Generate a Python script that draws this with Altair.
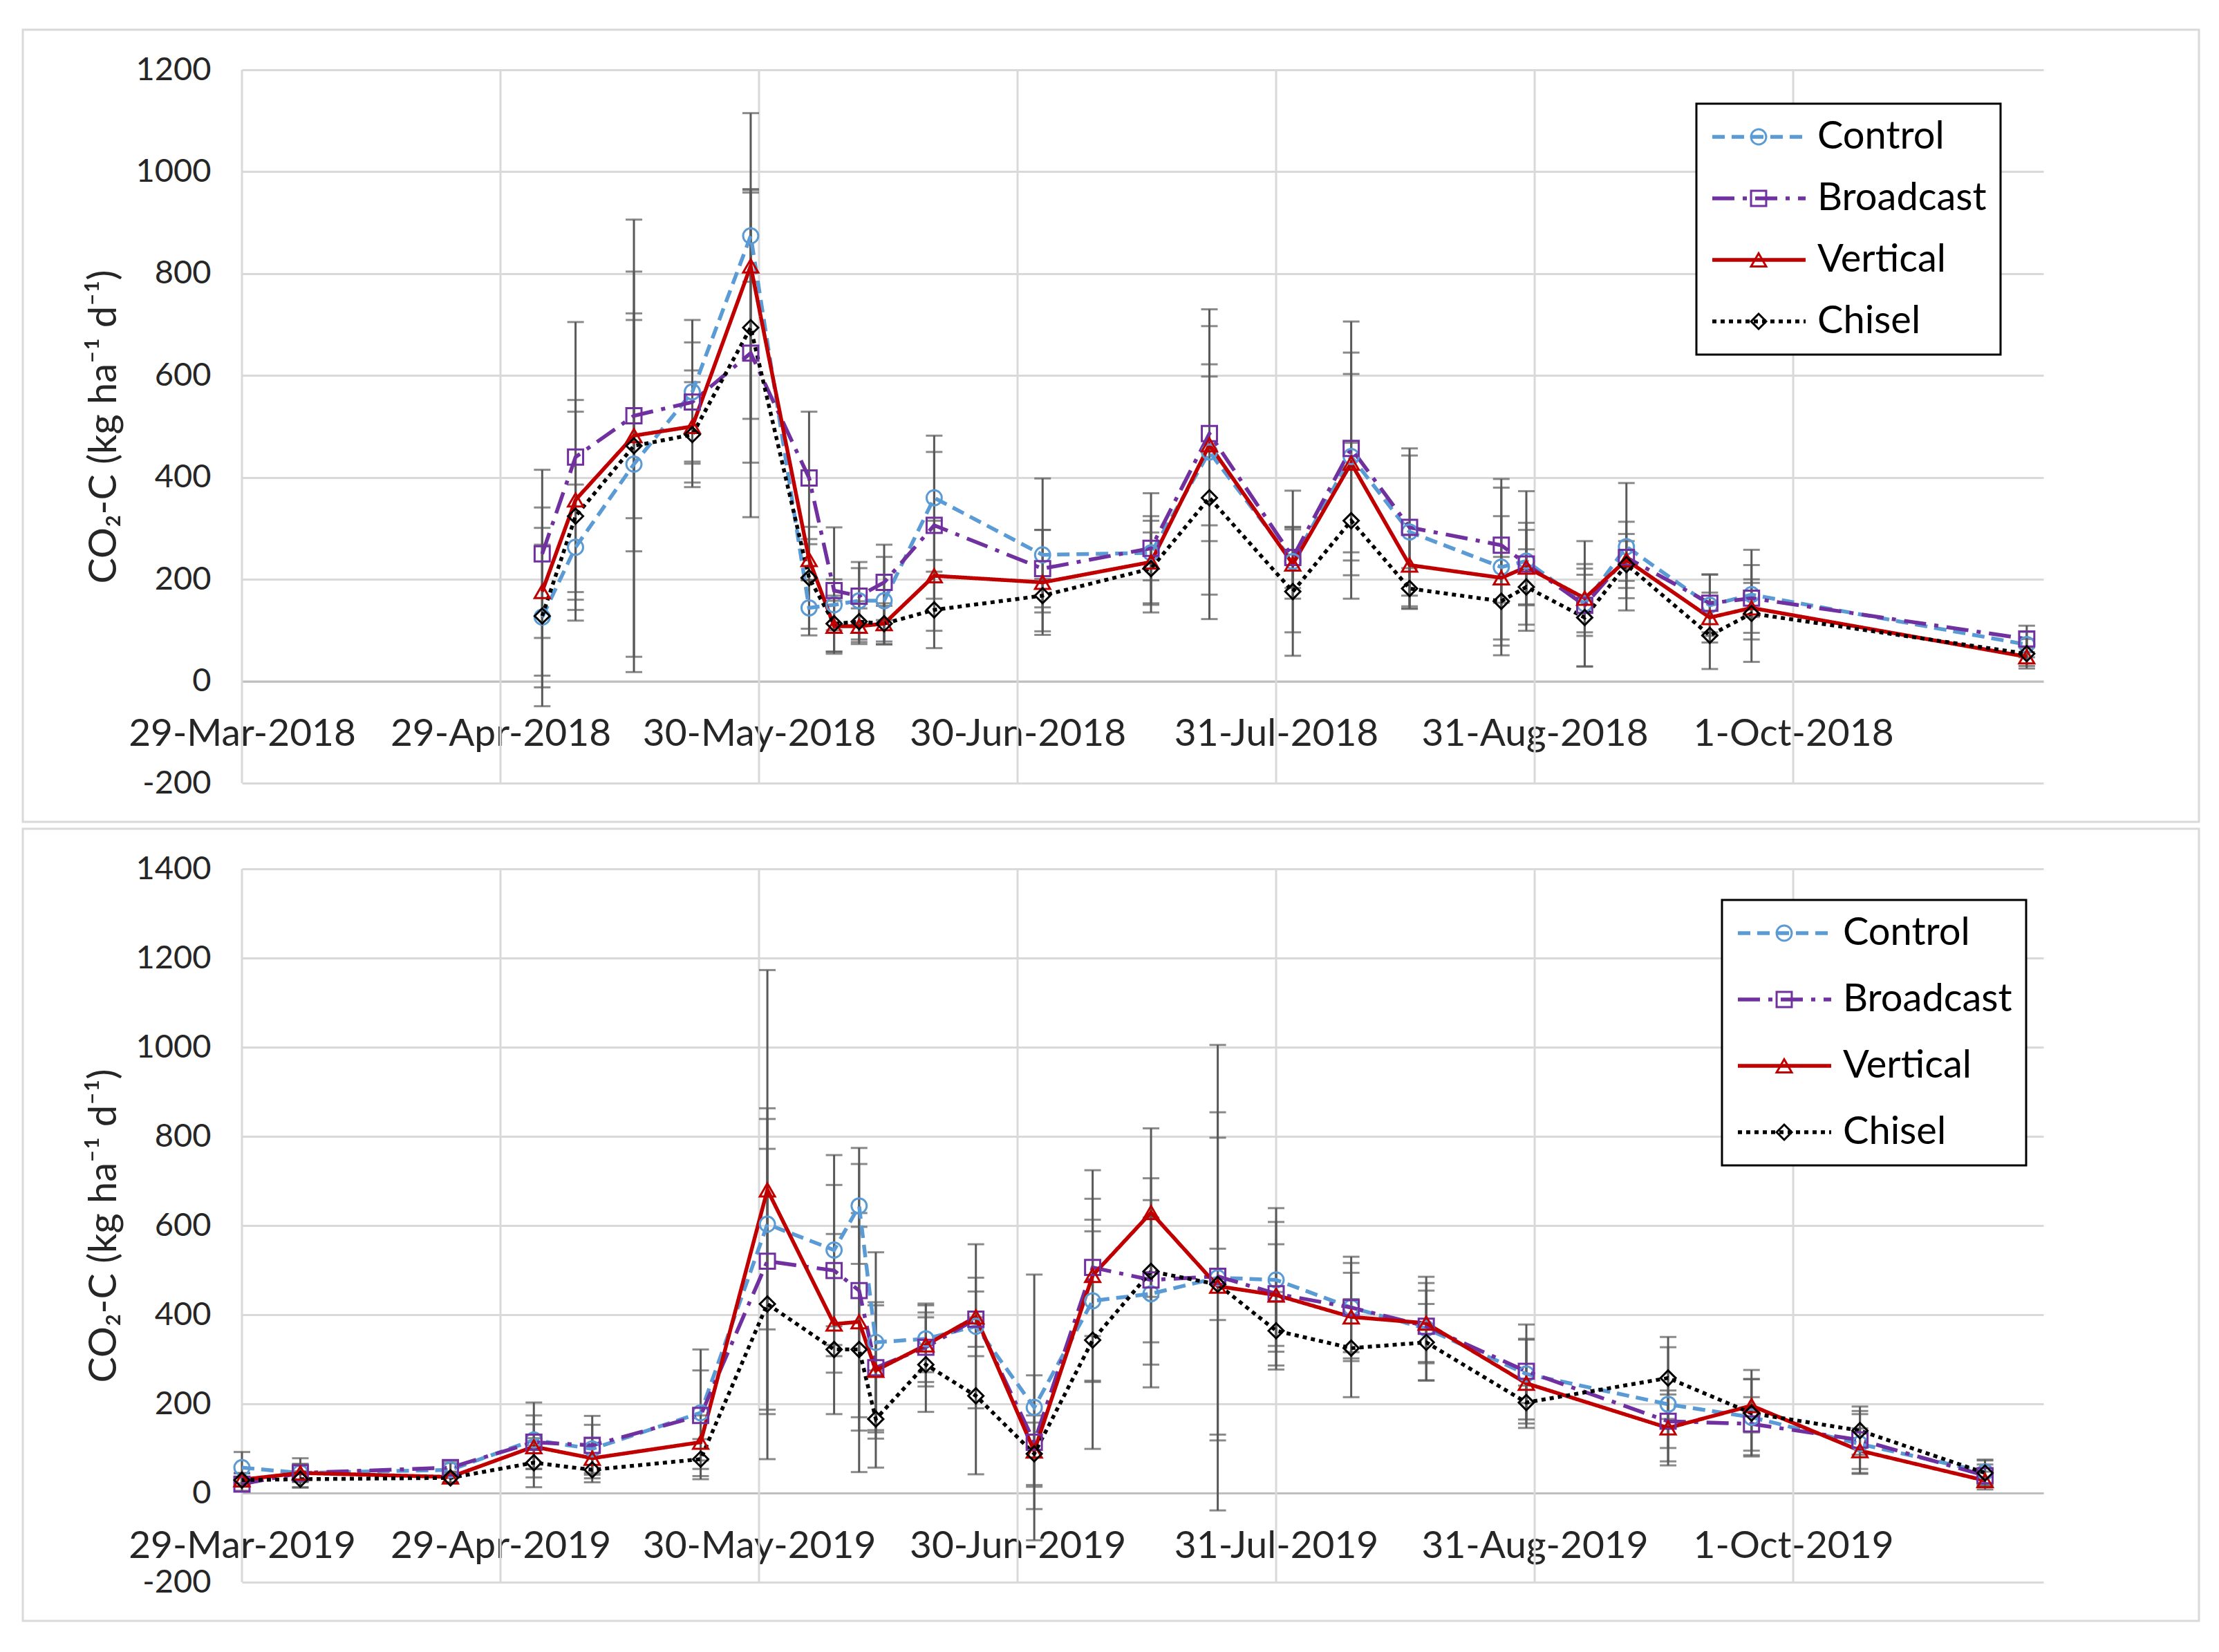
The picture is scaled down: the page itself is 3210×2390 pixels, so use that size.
import altair as alt
import pandas as pd

SERIES = ["Control", "Broadcast", "Vertical", "Chisel"]
COLORS = ["#5B9BD5", "#7030A0", "#C00000", "#000000"]
DASHES = [[18, 10], [32, 12, 6, 12], [1, 0], [6, 6]]
SHAPES = ["circle", "square", "triangle-up", "diamond"]
WIDTHS = [5.5, 5.5, 6.5, 5.5]

# ---------------- 2018 ----------------
dates_2018 = ["2018-05-04", "2018-05-08", "2018-05-15", "2018-05-22", "2018-05-29", "2018-06-05",
              "2018-06-08", "2018-06-11", "2018-06-14", "2018-06-20", "2018-07-03", "2018-07-16",
              "2018-07-23", "2018-08-02", "2018-08-09", "2018-08-16", "2018-08-27", "2018-08-30",
              "2018-09-06", "2018-09-11", "2018-09-21", "2018-09-26", "2018-10-29"]
control_2018 = [126, 263, 426, 568, 874, 144, 150, 158, 158, 360, 248, 252, 450, 235, 441, 293, 224, 236, 152, 264, 149, 170, 72]
broadcast_2018 = [250, 440, 521, 548, 644, 399, 178, 167, 194, 306, 221, 261, 486, 243, 457, 302, 267, 230, 149, 243, 153, 163, 83]
vertical_2018 = [176, 356, 482, 500, 815, 239, 108, 108, 113, 207, 194, 234, 464, 230, 428, 228, 203, 224, 163, 238, 125, 144, 48]
chisel_2018 = [128, 324, 462, 484, 694, 203, 113, 117, 113, 140, 168, 221, 360, 176, 315, 182, 157, 185, 125, 229, 90, 133, 54]
control_sd_2018 = [175, 123, 378, 141, 90, 54, 50, 76, 86, 122, 150, 117, 280, 139, 204, 150, 173, 137, 123, 125, 60, 88, 25]
broadcast_sd_2018 = [165, 265, 201, 117, 322, 130, 124, 55, 74, 144, 76, 63, 211, 60, 249, 155, 113, 81, 60, 46, 57, 37, 26]
vertical_sd_2018 = [165, 196, 227, 110, 300, 40, 50, 35, 35, 108, 103, 81, 158, 68, 175, 60, 121, 73, 67, 75, 49, 49, 18]
chisel_sd_2018 = [140, 205, 444, 103, 265, 100, 55, 40, 40, 75, 33, 71, 238, 126, 153, 40, 87, 74, 96, 46, 66, 95, 29]
ticks_2018 = ["2018-03-29", "2018-04-29", "2018-05-30", "2018-06-30", "2018-07-31", "2018-08-31", "2018-10-01"]
xdomain_2018 = ["2018-03-29", "2018-10-31"]
yticks_2018 = [-200, 0, 200, 400, 600, 800, 1000, 1200]

# ---------------- 2019 ----------------
dates_2019 = ["2019-03-29", "2019-04-05", "2019-04-23", "2019-05-03", "2019-05-10", "2019-05-23",
              "2019-05-31", "2019-06-08", "2019-06-11", "2019-06-13", "2019-06-19", "2019-06-25",
              "2019-07-02", "2019-07-09", "2019-07-16", "2019-07-24", "2019-07-31", "2019-08-09",
              "2019-08-18", "2019-08-30", "2019-09-16", "2019-09-26", "2019-10-09", "2019-10-24"]
control_2019 = [57, 45, 52, 119, 99, 180, 603, 545, 644, 338, 346, 374, 192, 431, 447, 483, 478, 416, 369, 267, 199, 170, 110, 47]
broadcast_2019 = [20, 45, 57, 114, 107, 174, 520, 499, 454, 281, 327, 390, 114, 506, 478, 486, 447, 416, 374, 273, 161, 155, 119, 39]
vertical_2019 = [30, 45, 36, 104, 78, 114, 680, 379, 384, 275, 332, 395, 94, 488, 629, 464, 444, 395, 381, 246, 146, 196, 95, 28]
chisel_2019 = [29, 31, 34, 68, 52, 76, 424, 322, 322, 166, 288, 218, 88, 343, 497, 468, 364, 325, 338, 203, 258, 179, 140, 45]
control_sd_2019 = [35, 33, 15, 84, 54, 142, 236, 213, 130, 202, 75, 184, 298, 182, 210, 522, 161, 114, 116, 111, 128, 85, 67, 28]
broadcast_sd_2019 = [15, 20, 15, 60, 66, 101, 343, 192, 284, 140, 78, 62, 150, 154, 140, 368, 161, 100, 80, 71, 60, 60, 65, 25]
vertical_sd_2019 = [15, 20, 12, 50, 45, 60, 493, 202, 244, 153, 93, 88, 80, 236, 189, 333, 114, 99, 90, 100, 84, 60, 50, 20]
chisel_sd_2019 = [15, 18, 12, 55, 28, 45, 348, 52, 275, 109, 106, 176, 70, 244, 209, 80, 87, 110, 86, 38, 92, 97, 54, 28]
ticks_2019 = ["2019-03-29", "2019-04-29", "2019-05-30", "2019-06-30", "2019-07-31", "2019-08-31", "2019-10-01"]
xdomain_2019 = ["2019-03-29", "2019-10-31"]
yticks_2019 = [-200, 0, 200, 400, 600, 800, 1000, 1200, 1400]

W, H = 2606, 1032
FONT = "Lato"
GRID = "#D9D9D9"
ERR = "#595959"
TEXT = "#262626"
Y_TITLE = "CO\u2082-C (kg ha\u207b\u00b9 d\u207b\u00b9)"
SERIES_M = [s + " " for s in SERIES]


def dt(s):
    y, m, d = map(int, s.split("-"))
    return alt.DateTime(year=y, month=m, date=d)


def panel(dates, vals, sds, ticks, xdom, yticks, leg_x, leg_y, row_pad):
    rows = []
    for name, v_list, s_list in zip(SERIES, vals, sds):
        for d, v, s in zip(dates, v_list, s_list):
            rows.append({"date": d + "T00:00:00", "series": name, "series_m": name + " ",
                         "value": v, "lo": v - s, "hi": v + s})
    df = pd.DataFrame(rows)
    tick_df = pd.DataFrame({"date": [t + "T00:00:00" for t in ticks]})

    ymin, ymax = yticks[0], yticks[-1]
    x_axis = alt.Axis(values=[dt(t) for t in ticks], format="%-d-%b-%Y", grid=False, ticks=False,
                      domain=True, domainColor="#BFBFBF", domainWidth=3,
                      labelFont=FONT, labelFontSize=55, labelColor=TEXT, labelPadding=50,
                      labelFlush=False, labelOverlap=False, labelLimit=800,
                      offset=-H * (0 - ymin) / (ymax - ymin), title=None)
    x_scale = alt.Scale(domain=[dt(xdom[0]), dt(xdom[1])])
    y_axis = alt.Axis(values=yticks, grid=True, gridColor=GRID, gridWidth=3, domain=False, ticks=False,
                      labelExpr="'' + datum.value",
                      labelFont=FONT, labelFontSize=47, labelColor=TEXT, labelPadding=45,
                      title=Y_TITLE, titleFont=FONT, titleFontSize=56, titleFontWeight="normal",
                      titleColor=TEXT, titlePadding=16)
    y_scale = alt.Scale(domain=[ymin, ymax], nice=False, zero=False)

    def X():
        return alt.X("date:T", scale=x_scale, axis=x_axis)

    frame = alt.Chart(pd.DataFrame({"k": [0]})).mark_rect(
        stroke=GRID, strokeWidth=3, fillOpacity=0).encode(
        x=alt.value(-317), x2=alt.value(W + 225), y=alt.value(-58), y2=alt.value(H + 56))

    vgrid = alt.Chart(tick_df).mark_rule(color=GRID, strokeWidth=3).encode(x=X())

    base = alt.Chart(df)
    err = base.mark_rule(color=ERR, strokeWidth=3).encode(
        x=X(), y=alt.Y("lo:Q", scale=y_scale, axis=y_axis), y2="hi:Q")
    cap_lo = base.mark_tick(color=ERR, orient="horizontal", size=24, thickness=3).encode(
        x=X(), y=alt.Y("lo:Q", scale=y_scale, axis=y_axis))
    cap_hi = base.mark_tick(color=ERR, orient="horizontal", size=24, thickness=3).encode(
        x=X(), y=alt.Y("hi:Q", scale=y_scale, axis=y_axis))

    leg_a = alt.Legend(title=None, orient="none", legendX=leg_x, legendY=leg_y,
                       symbolType="stroke", symbolSize=135 ** 2, symbolStrokeWidth=5.5, clipHeight=56,
                       labelFont=FONT, labelFontSize=56, labelColor="#000000", labelLimit=600,
                       labelOffset=14, padding=20, rowPadding=row_pad,
                       strokeColor="#000000", fillColor="#FFFFFF", cornerRadius=0)
    leg_b = alt.Legend(title=None, orient="none", legendX=leg_x + 42, legendY=leg_y,
                       symbolSize=480, symbolStrokeWidth=3, clipHeight=56,
                       labelFont=FONT, labelFontSize=56, labelExpr="''", labelLimit=600,
                       labelOffset=14, padding=20, rowPadding=row_pad,
                       strokeColor="transparent", fillColor="transparent")

    lines = base.mark_line(strokeCap="butt").encode(
        x=X(), y=alt.Y("value:Q", scale=y_scale, axis=y_axis),
        color=alt.Color("series:N", scale=alt.Scale(domain=SERIES, range=COLORS), legend=leg_a),
        strokeDash=alt.StrokeDash("series:N", scale=alt.Scale(domain=SERIES, range=DASHES), legend=leg_a),
        strokeWidth=alt.StrokeWidth("series:N", scale=alt.Scale(domain=SERIES, range=WIDTHS), legend=None),
        order=alt.Order("date:T"))
    points = base.mark_point(filled=False, size=480, strokeWidth=3, opacity=1).encode(
        x=X(), y=alt.Y("value:Q", scale=y_scale, axis=y_axis),
        stroke=alt.Stroke("series_m:N", scale=alt.Scale(domain=SERIES_M, range=COLORS), legend=leg_b),
        shape=alt.Shape("series_m:N", scale=alt.Scale(domain=SERIES_M, range=SHAPES), legend=leg_b))

    return alt.layer(frame, vgrid, err, cap_lo, cap_hi, lines, points).properties(width=W, height=H)


top = panel(dates_2018,
            [control_2018, broadcast_2018, vertical_2018, chisel_2018],
            [control_sd_2018, broadcast_sd_2018, vertical_sd_2018, chisel_sd_2018],
            ticks_2018, xdomain_2018, yticks_2018, 2104, 49, 33)
bottom = panel(dates_2019,
               [control_2019, broadcast_2019, vertical_2019, chisel_2019],
               [control_sd_2019, broadcast_sd_2019, vertical_sd_2019, chisel_sd_2019],
               ticks_2019, xdomain_2019, yticks_2019, 2141, 45, 40)

chart = alt.vconcat(top, bottom, spacing=6).resolve_scale(
    x="independent", y="independent", color="independent", strokeDash="independent",
    stroke="independent", shape="independent", strokeWidth="independent"
).properties(
    padding={"left": 23, "top": 33, "right": 10, "bottom": 10},
    background="#FFFFFF"
).configure_view(stroke=None).configure_legend(strokeWidth=3)

chart.save("out.html", embed_options={"renderer": "svg", "actions": False})
